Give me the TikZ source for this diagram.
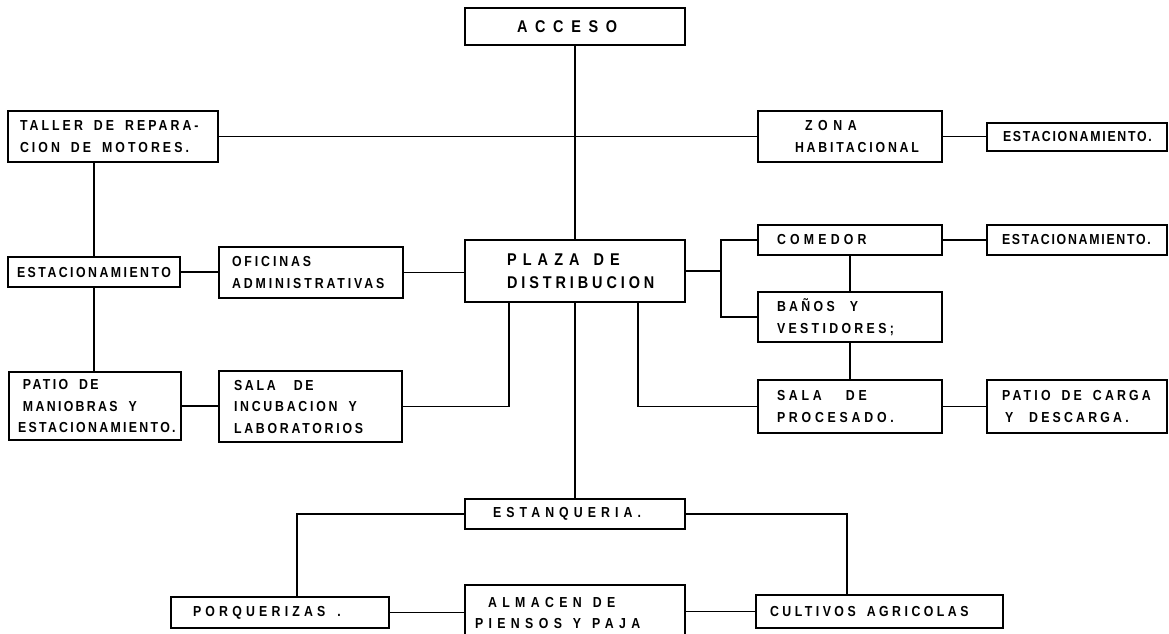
\documentclass[tikz,border=0pt]{standalone}
\usepackage{fontspec}
\newfontfamily\lett[FakeStretch=0.85,LetterSpace=20]{Liberation Sans}
\newcommand\lettfont{\lett\bfseries\fontsize{14.5}{21.5}\selectfont}
\newcommand\ws[1][11pt]{\hspace{#1}}
\begin{document}
\begin{tikzpicture}[x=1pt,y=-1pt,
  box/.style={draw, line width=1.8pt, align=left, inner ysep=2pt, font=\lettfont},
  trk/.style={font={\lettfont\addfontfeature{LetterSpace=#1}}},
  big/.style={font={\lett\bfseries\fontsize{17}{23}\selectfont\addfontfeature{LetterSpace=#1}}},
  conn/.style={line width=1.5pt},
  geo/.style n args={3}{minimum height=#1, text width=#2, inner xsep=#3}]
\useasboundingbox (0,0) rectangle (1169,633);

\node[box, geo={37}{116}{52}, big=45] (acc) at (575,26.5) {ACCESO};
\node[box, geo={51}{186}{12}, trk=21] (tal) at (113,136.5) {TALLER\ws DE\ws REPARA-\\CION\ws DE\ws MOTORES.};
\node[box, geo={51}{110}{37}, trk=19.5] (zon) at (850,136.5) {\hspace{10pt}{\addfontfeature{LetterSpace=39}ZONA}\\HABITACIONAL};
\node[box, geo={28}{148}{16}, trk=12] (est1) at (1077,137) {ESTACIONAMIENTO.};
\node[box, geo={62}{136}{42}, big=23] (plz) at (575,271) {{\addfontfeature{LetterSpace=36}PLAZA\ws[14pt]DE}\\DISTRIBUCION};
\node[box, geo={30}{164}{4}, align=center, trk=17] (esl) at (94,272) {ESTACIONAMIENTO};
\node[box, geo={51}{158}{13}, trk=20] (ofi) at (311,272.5) {OFICINAS\\ADMINISTRATIVAS};
\node[box, geo={30}{146}{19}, trk=29] (com) at (850,240) {COMEDOR};
\node[box, geo={30}{150}{15}, trk=12] (est2) at (1077,240) {ESTACIONAMIENTO.};
\node[box, geo={50}{146}{19}, trk=23] (ban) at (850,317) {BAÑOS\ws[15pt]Y\\VESTIDORES;};
\node[box, geo={68}{154}{9}, trk=16] (pat) at (95,406) {\hspace{5pt}PATIO\ws DE\\\hspace{5pt}MANIOBRAS\ws Y\\ESTACIONAMIENTO.};
\node[box, geo={71}{153}{15}, trk=19] (inc) at (310.5,406.5) {SALA\ws[18pt]DE\\INCUBACION\ws Y\\LABORATORIOS};
\node[box, geo={53}{146}{19}, trk=26] (pro) at (850,406.5) {SALA\ws[24pt]DE\\PROCESADO.};
\node[box, geo={53}{150}{15}, trk=22] (car) at (1077,406.5) {PATIO\ws DE\ws CARGA\\\hspace{3pt}Y\ws[16pt]DESCARGA.};
\node[box, geo={30}{164}{28}, trk=35] (estq) at (575,514) {ESTANQUERIA.};
\node[box, geo={31}{174}{22}, trk=29] (por) at (280,612.5) {PORQUERIZAS\ws[12pt].};
\node[box, geo={56}{200}{10}, trk=37] (alm) at (575,613) {\hspace{13pt}ALMACEN\ws DE\\PIENSOS\ws Y\ws PAJA};
\node[box, geo={33}{219}{14}, trk=24] (cul) at (879.5,611.5) {CULTIVOS\ws AGRICOLAS};

\coordinate (brk) at (721,271);

\draw[conn] (acc) -- (plz);
\draw[conn] (tal) -- (zon);
\draw[conn] (zon.east) -- (zon.east -| est1.west);
\draw[conn] (tal.south -| esl.north) -- (esl.north);
\draw[conn] (esl.south) -- (esl.south |- pat.north);
\draw[conn] (esl.east) -- (esl.east -| ofi.west);
\draw[conn] (ofi.east) -- (ofi.east -| plz.west);
\draw[conn] (plz.east) -- (plz.east -| brk);
\draw[conn] (com.west) -| (brk) |- (ban.west);
\draw[conn] (com) -- (ban);
\draw[conn] (ban) -- (pro);
\draw[conn] (com) -- (est2);
\draw[conn] (pro) -- (car);
\draw[conn] (inc.east) -| ([xshift=-66pt]plz.south);
\draw[conn] (pro.west) -| ([xshift=63pt]plz.south);
\draw[conn] (plz) -- (estq);
\draw[conn] (pat.east) -- (pat.east -| inc.west);
\draw[conn] (estq.west) -| ([xshift=17pt]por.north);
\draw[conn] (estq.east) -| ([xshift=-32.5pt]cul.north);
\draw[conn] (por.east) -- (por.east -| alm.west);
\draw[conn] (cul.west) -- (cul.west -| alm.east);
\end{tikzpicture}
\end{document}
